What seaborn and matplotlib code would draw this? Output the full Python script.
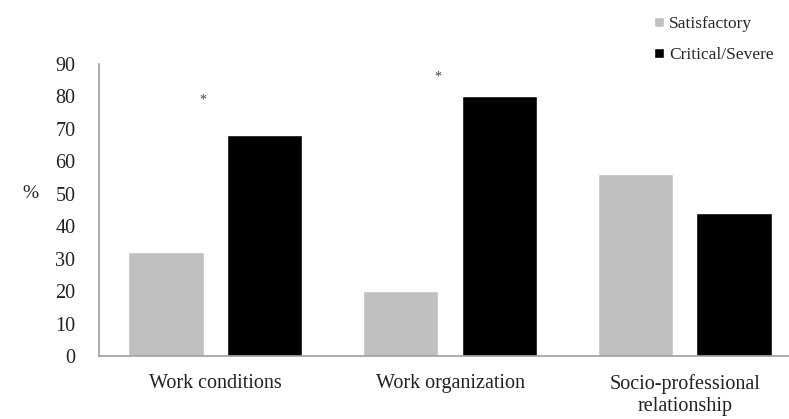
import pandas as pd
import matplotlib.pyplot as plt
import seaborn as sns

# Values
categories = ['Work conditions', 'Work organization', 'Socio-professional\nrelationship']
satisfactory = [32, 20, 56]
critical = [68, 80, 44]
star_heights = [79, 86]  # asterisks above first two groups

data = pd.DataFrame({
    'domain': categories * 2,
    'group': ['Satisfactory'] * 3 + ['Critical/Severe'] * 3,
    'pct': satisfactory + critical,
})

sns.set_style('white')
plt.rcParams['font.family'] = ['Liberation Serif', 'DejaVu Serif']

fig = plt.figure(figsize=(7.89, 4.19), dpi=100)
ax = fig.add_axes([0.1255, 0.1504, 0.8745, 0.6969])

sns.barplot(data=data, x='domain', y='pct', hue='group',
            hue_order=['Satisfactory', 'Critical/Severe'],
            palette=['#c0c0c0', '#000000'], width=0.838, gap=0.234,
            saturation=1, ax=ax)

for i, h in enumerate(star_heights):
    ax.text(i - 0.05, h, '*', ha='center', va='center', fontsize=10, color='#404040')

ax.set_xlim(-0.494, 2.443)
ax.set_ylim(0, 90)
ax.set_yticks(range(0, 91, 10))
ax.set_xlabel('')
ax.set_ylabel('%', rotation=0, fontsize=14, labelpad=26, va='center')
ax.yaxis.set_label_coords(-0.1, 50 / 90)
ax.tick_params(axis='both', labelsize=14.5, length=0, colors='#222222')
ax.tick_params(axis='x', pad=13)
ax.tick_params(axis='y', pad=17)

for s in ['top', 'right']:
    ax.spines[s].set_visible(False)
for s in ['left', 'bottom']:
    ax.spines[s].set_color('#a0a0a0')
    ax.spines[s].set_linewidth(1.2)

leg = ax.legend(loc='upper left', bbox_to_anchor=(0.814, 0.99), bbox_transform=fig.transFigure,
                frameon=False, fontsize=12.5, handlelength=0.55, handleheight=0.55,
                handletextpad=0.3, labelspacing=0.84, borderaxespad=0.3)

plt.savefig('out.png', dpi=100)
